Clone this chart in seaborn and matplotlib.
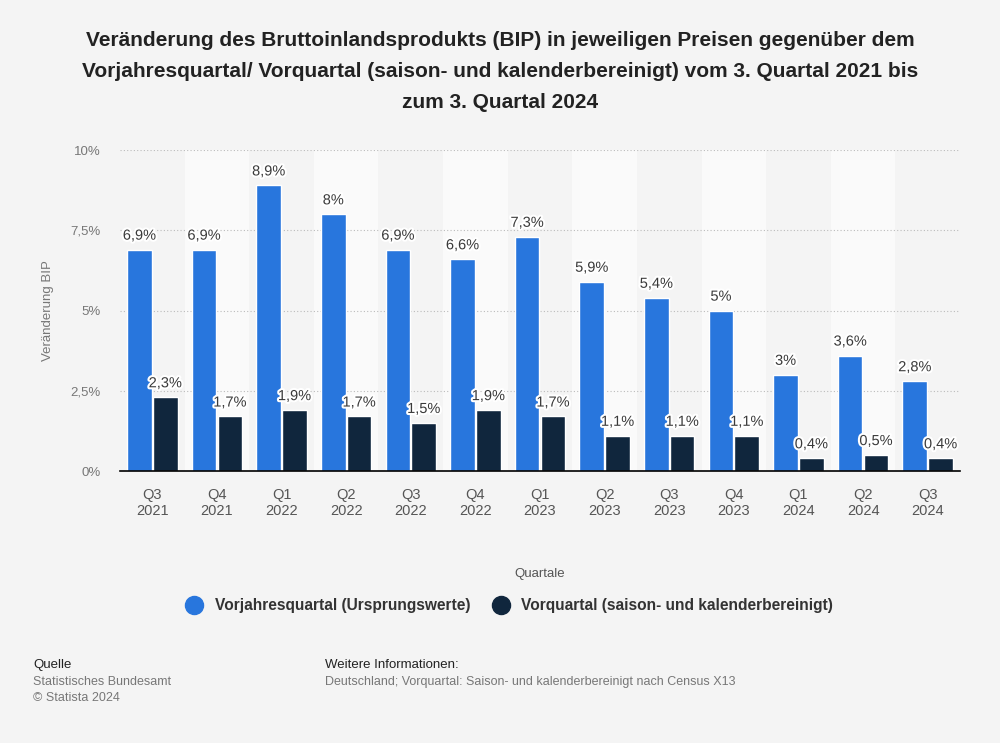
import matplotlib
matplotlib.use("Agg")
import matplotlib.pyplot as plt
import matplotlib.patheffects as pe
from matplotlib.lines import Line2D
import seaborn as sns
import pandas as pd

quarters = ["Q3\n2021", "Q4\n2021", "Q1\n2022", "Q2\n2022", "Q3\n2022", "Q4\n2022",
            "Q1\n2023", "Q2\n2023", "Q3\n2023", "Q4\n2023", "Q1\n2024", "Q2\n2024", "Q3\n2024"]
vorjahr = [6.9, 6.9, 8.9, 8.0, 6.9, 6.6, 7.3, 5.9, 5.4, 5.0, 3.0, 3.6, 2.8]
vorquartal = [2.3, 1.7, 1.9, 1.7, 1.5, 1.9, 1.7, 1.1, 1.1, 1.1, 0.4, 0.5, 0.4]
series_names = ["Vorjahresquartal (Ursprungswerte)", "Vorquartal (saison- und kalenderbereinigt)"]
colors = ["#2876dd", "#10263d"]
yticks = [0, 2.5, 5, 7.5, 10]
ytick_labels = ["0%", "2,5%", "5%", "7,5%", "10%"]

df = pd.DataFrame({
    "Quartal": quarters * 2,
    "Wert": vorjahr + vorquartal,
    "Serie": [series_names[0]] * len(quarters) + [series_names[1]] * len(quarters),
})

sns.set_theme(style="white")
plt.rcParams["font.family"] = ["Liberation Sans", "DejaVu Sans"]

bg = "#f4f4f4"
fig = plt.figure(figsize=(10, 7.43), dpi=100, facecolor=bg)
ax = fig.add_axes([0.12, 0.366, 0.84, 0.432])
ax.set_facecolor(bg)

for i in range(len(quarters)):
    if i % 2 == 1:
        ax.axvspan(i - 0.5, i + 0.5, color="#fafafa", zorder=0, lw=0)

sns.barplot(data=df, x="Quartal", y="Wert", hue="Serie", palette=colors,
            width=0.8, gap=0.05, ax=ax, legend=False, saturation=1, zorder=3)

def fmt(v):
    s = f"{v:.1f}".replace(".", ",")
    if s.endswith(",0"):
        s = s[:-2]
    return s + "%"

for container in ax.containers:
    labels = [fmt(b.get_height()) for b in container]
    texts = ax.bar_label(container, labels=labels, padding=5, fontsize=10.5, color="#3a3a3a")
    for t in texts:
        t.set_path_effects([pe.withStroke(linewidth=3, foreground="white")])
        t.set_zorder(5)

ax.set_ylim(0, 10)
ax.set_xlim(-0.5, len(quarters) - 0.5)
ax.set_yticks(yticks)
ax.set_yticklabels(ytick_labels, fontsize=9.5, color="#777777")
ax.tick_params(axis="x", labelsize=10.5, labelcolor="#555555", length=0, pad=12)
ax.tick_params(axis="y", length=0, pad=14)
for y in yticks[1:]:
    ax.axhline(y, color="#bbbbbb", lw=0.8, ls=(0, (1, 2)), zorder=1)
for s in ["top", "right", "left"]:
    ax.spines[s].set_visible(False)
ax.spines["bottom"].set_color("#000000")
ax.spines["bottom"].set_linewidth(1.2)
ax.spines["bottom"].set_zorder(6)

ax.set_xlabel("Quartale", fontsize=9.5, color="#555555", labelpad=36)
ax.set_ylabel("Veränderung BIP", fontsize=9.5, color="#777777", labelpad=12)

fig.text(0.5, 0.958, "Veränderung des Bruttoinlandsprodukts (BIP) in jeweiligen Preisen gegenüber dem\n"
         "Vorjahresquartal/ Vorquartal (saison- und kalenderbereinigt) vom 3. Quartal 2021 bis\n"
         "zum 3. Quartal 2024", ha="center", va="top", fontsize=15, fontweight="bold",
         color="#222222", linespacing=1.8)

handles = [Line2D([0], [0], marker="o", color="none", markerfacecolor=c, markeredgecolor=c,
                  markersize=13) for c in colors]
leg = fig.legend(handles, series_names, loc="center", bbox_to_anchor=(0.506, 0.185), ncol=2,
                 frameon=False, prop={"weight": "bold", "size": 11.2}, handletextpad=0.3,
                 columnspacing=1.0)
for t in leg.get_texts():
    t.set_color("#333333")

fig.text(0.033, 0.105, "Quelle", fontsize=9.5, color="#222222", va="center")
fig.text(0.033, 0.082, "Statistisches Bundesamt", fontsize=9, color="#777777", va="center")
fig.text(0.033, 0.060, "© Statista 2024", fontsize=9, color="#777777", va="center")
fig.text(0.325, 0.105, "Weitere Informationen:", fontsize=9.5, color="#222222", va="center")
fig.text(0.325, 0.082, "Deutschland; Vorquartal: Saison- und kalenderbereinigt nach Census X13",
         fontsize=9, color="#777777", va="center")

fig.savefig("out.png", dpi=100, facecolor=bg)
